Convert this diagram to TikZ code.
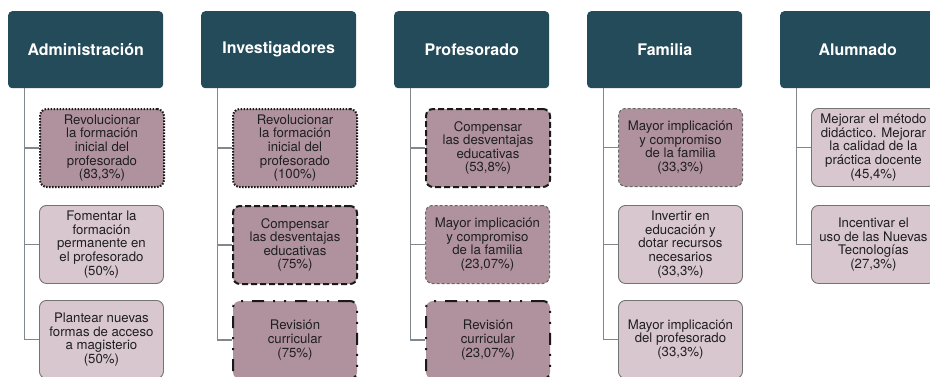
\documentclass[tikz,border=0pt]{standalone}
\usepackage{fontspec}
\setmainfont{TeX Gyre Heros}
\usetikzlibrary{positioning}
\definecolor{headteal}{HTML}{244B5A}
\definecolor{mauvedark}{HTML}{B0929F}
\definecolor{mauvelight}{HTML}{D9C7D0}
\definecolor{rulegrey}{HTML}{80878D}

\begin{document}
\begin{tikzpicture}[x=1pt,y=-1pt,
    header/.style={fill=headteal, text=white, rounded corners=4pt, anchor=north west,
      minimum width=155pt, minimum height=77pt, inner sep=0pt,
      font=\fontsize{16}{18}\selectfont\bfseries},
    item/.style={rounded corners=7pt, anchor=north west, align=center, inner sep=0pt,
      minimum width=124pt, minimum height=78pt, text=black!88,
      font=\fontsize{13.2}{13.6}\selectfont},
    plainitem/.style={item, fill=mauvelight, draw=black!55, line width=0.9pt},
    dotitem/.style={item, fill=mauvedark, draw=black!90, line width=2pt, dash pattern=on 1.5pt off 1.5pt},
    dashitem/.style={item, fill=mauvedark, draw=black!90, line width=2pt, dash pattern=on 6pt off 3pt},
    dashdotitem/.style={item, fill=mauvedark, draw=black!90, line width=2pt,
      dash pattern=on 12pt off 9pt on 2pt off 9pt on 2pt off 9pt},
    thindashitem/.style={item, fill=mauvedark, draw=black!60, line width=1pt, dash pattern=on 3pt off 2pt},
    link/.style={draw=rulegrey, line width=1.2pt}]

    % Fix the frame of the picture
    \clip (0,0) rectangle (930,376);

    % Draw the headers
    \node[header] (adm) at (8,11) {Administración};
    \node[header] (inv) at (201,11) {Investigadores};
    \node[header] (pro) at (394,11) {Profesorado};
    \node[header] (fam) at (587,11) {Familia};
    \node[header] (alu) at (780,11) {Alumnado};

    % Administración
    \node[dotitem] (adm1) at (39,108) {Revolucionar\\la formación\\inicial del\\profesorado\\(83,3\%)};
    \node[plainitem] (adm2) at (39,205) {Fomentar la\\formación\\permanente en\\el profesorado\\(50\%)};
    \node[plainitem] (adm3) at (39,300) {Plantear nuevas\\formas de acceso\\a magisterio\\(50\%)};

    % Investigadores
    \node[dotitem] (inv1) at (232,108) {Revolucionar\\la formación\\inicial del\\profesorado\\(100\%)};
    \node[dashitem] (inv2) at (232,205) {Compensar\\las desventajas\\educativas\\(75\%)};
    \node[dashdotitem] (inv3) at (232,300) {Revisión\\curricular\\(75\%)};

    % Profesorado
    \node[dashitem] (pro1) at (425,108) {Compensar\\las desventajas\\educativas\\(53,8\%)};
    \node[thindashitem] (pro2) at (425,205) {Mayor implicación\\y compromiso\\de la familia\\(23,07\%)};
    \node[dashdotitem] (pro3) at (425,300) {Revisión\\curricular\\(23,07\%)};

    % Familia
    \node[thindashitem] (fam1) at (618,108) {Mayor implicación\\y compromiso\\de la familia\\(33,3\%)};
    \node[plainitem] (fam2) at (618,205) {Invertir en\\educación y\\dotar recursos\\necesarios\\(33,3\%)};
    \node[plainitem] (fam3) at (618,300) {Mayor implicación\\del profesorado\\(33,3\%)};

    % Alumnado
    \node[plainitem] (alu1) at (811,108) {Mejorar el método\\didáctico. Mejorar\\la calidad de la\\práctica docente\\(45,4\%)};
    \node[plainitem] (alu2) at (811,205) {Incentivar el\\uso de las Nuevas\\Tecnologías\\(27,3\%)};

    % Draw the connectors from each header to its boxes
    \draw[link] ([xshift=16.5pt]adm.south west) |- (adm1.west);
    \draw[link] ([xshift=16.5pt]adm.south west) |- (adm2.west);
    \draw[link] ([xshift=16.5pt]adm.south west) |- (adm3.west);
    \draw[link] ([xshift=16.5pt]inv.south west) |- (inv1.west);
    \draw[link] ([xshift=16.5pt]inv.south west) |- (inv2.west);
    \draw[link] ([xshift=16.5pt]inv.south west) |- (inv3.west);
    \draw[link] ([xshift=16.5pt]pro.south west) |- (pro1.west);
    \draw[link] ([xshift=16.5pt]pro.south west) |- (pro2.west);
    \draw[link] ([xshift=16.5pt]pro.south west) |- (pro3.west);
    \draw[link] ([xshift=16.5pt]fam.south west) |- (fam1.west);
    \draw[link] ([xshift=16.5pt]fam.south west) |- (fam2.west);
    \draw[link] ([xshift=16.5pt]fam.south west) |- (fam3.west);
    \draw[link] ([xshift=16.5pt]alu.south west) |- (alu1.west);
    \draw[link] ([xshift=16.5pt]alu.south west) |- (alu2.west);
\end{tikzpicture}
\end{document}
